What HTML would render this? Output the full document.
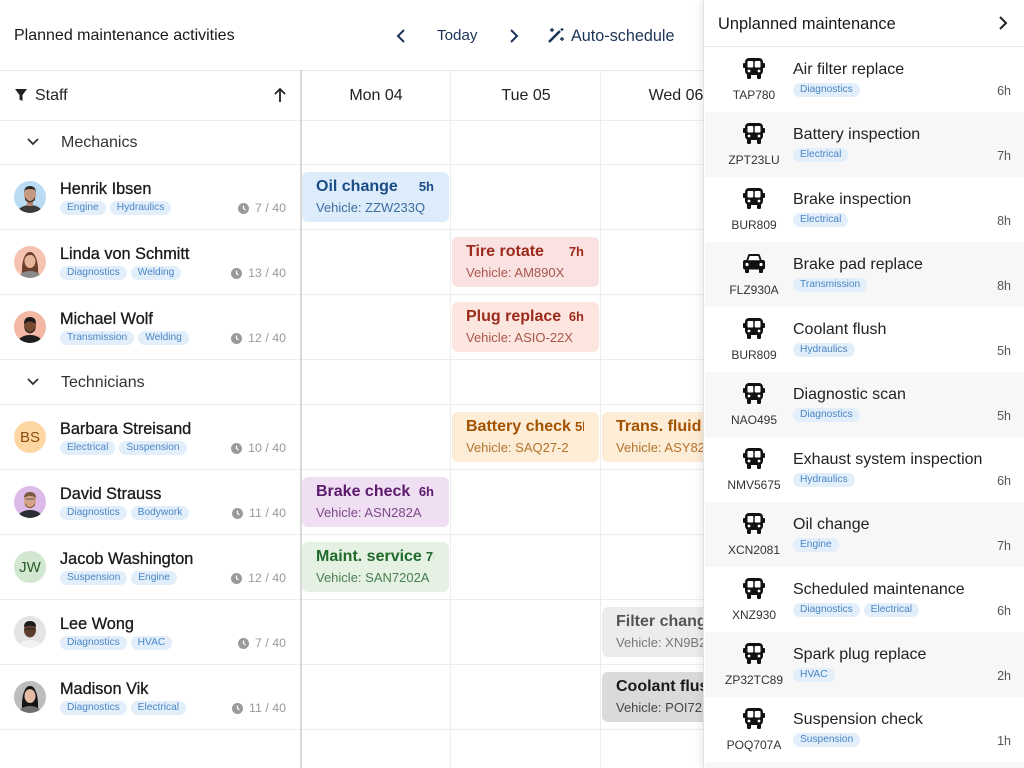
<!DOCTYPE html>
<html style="height:768px;overflow:hidden"><head><meta charset="utf-8">
<style>
*{box-sizing:border-box;margin:0;padding:0}
html,body{width:1024px;height:768px;overflow:hidden}
body{background:#fff;font-family:"Liberation Sans",Arial,sans-serif;color:#222;position:relative}
.a{position:absolute}
.hl{position:absolute;left:0;width:704px;height:1px;background:#ededed}
.vl{position:absolute;width:1px;background:#ededed;top:70px;height:698px}
.tag{display:inline-block;height:14px;line-height:14px;padding:0 7px;border-radius:7px;background:#e2eefa;color:#4a86c6;font-size:10.2px;margin-right:4px;vertical-align:top;white-space:nowrap}
.name{position:absolute;left:60px;top:15px;line-height:20px;font-size:16.3px;color:#1a1a1a;-webkit-text-stroke:0.3px #1a1a1a;white-space:nowrap}
.row{position:absolute;left:0;width:300px;height:65px}
.tags{position:absolute;left:60px;top:37px;white-space:nowrap}
.hrs{position:absolute;right:14px;top:36px;height:16px;line-height:16px;font-size:12.4px;color:#9a9a9a;display:flex;align-items:center;white-space:nowrap}
.hrs svg{margin-right:6px}
.av{position:absolute;left:14px;top:17px;width:32px;height:32px;border-radius:50%;overflow:hidden}
.ini{display:flex;align-items:center;justify-content:center;font-size:15px}
.card{position:absolute;height:50px;border-radius:6px;padding:0 15px 0 14px;overflow:hidden}
.ct{display:flex;justify-content:space-between;height:29px;line-height:29px;overflow:hidden;white-space:nowrap}
.ct b{font-size:16px;font-weight:bold;flex-shrink:0}
.ct i{font-style:normal;font-size:13px;font-weight:bold;margin-left:4px;flex-shrink:0}
.cs{font-size:13px;line-height:14px;white-space:nowrap}
.grp{position:absolute;left:61px;font-size:16px;color:#333;line-height:20px}
.dh{position:absolute;top:86px;width:150px;text-align:center;font-size:16px;color:#222;line-height:20px}
.panel{position:absolute;left:703px;top:0;width:321px;height:768px;background:#fff;border-left:1px solid #e2e2e2;box-shadow:-3px 0 7px rgba(0,0,0,.07);z-index:5;overflow:hidden}
.it{position:absolute;left:1px;width:320px;height:65px}
.it.g{background:#f7f7f7}
.ic{position:absolute;left:38px;top:11px}
.pl{position:absolute;left:9px;width:80px;top:40px;line-height:16px;text-align:center;font-size:12px;color:#333}
.tt{position:absolute;left:88px;top:13px;line-height:20px;font-size:16px;color:#222;white-space:nowrap}
.tg{position:absolute;left:88px;top:36px;white-space:nowrap}
.hh{position:absolute;right:14px;top:36px;line-height:16px;font-size:12.5px;color:#555}
</style></head><body>

<!-- header -->
<div class="a" style="left:14px;top:26px;line-height:20px;font-size:16px;color:#1a1a1a">Planned maintenance activities</div>
<svg class="a" style="left:395px;top:28px" width="12" height="16"><polyline points="9,2 3,8 9,14" fill="none" stroke="#1c3557" stroke-width="2"/></svg>
<div class="a" style="left:437px;top:26px;line-height:20px;font-size:15.2px;color:#1c3557">Today</div>
<svg class="a" style="left:508px;top:28px" width="12" height="16"><polyline points="3,2 9,8 3,14" fill="none" stroke="#1c3557" stroke-width="2"/></svg>
<svg class="a" style="left:547px;top:27px" width="18" height="17" viewBox="0 0 18 17">
<line x1="2" y1="15" x2="11" y2="6" stroke="#1c3557" stroke-width="2.6"/>
<line x1="10.5" y1="6.5" x2="13" y2="4" stroke="#1c3557" stroke-width="2.6"/>
<path d="M5 1 v4 M3 3 h4" stroke="#1c3557" stroke-width="1.4"/>
<path d="M15 1 v3 M13.5 2.5 h3" stroke="#1c3557" stroke-width="1.3"/>
<path d="M15 10 v4 M13 12 h4" stroke="#1c3557" stroke-width="1.4"/>
</svg>
<div class="a" style="left:571px;top:26px;line-height:20px;font-size:16.2px;color:#1c3557">Auto-schedule</div>

<!-- grid lines -->
<div class="hl" style="top:70px;background:#e6e6e6"></div>
<div class="hl" style="top:120px"></div>
<div class="hl" style="top:164px"></div>
<div class="hl" style="top:229px"></div>
<div class="hl" style="top:294px"></div>
<div class="hl" style="top:359px"></div>
<div class="hl" style="top:404px"></div>
<div class="hl" style="top:469px"></div>
<div class="hl" style="top:534px"></div>
<div class="hl" style="top:599px"></div>
<div class="hl" style="top:664px"></div>
<div class="hl" style="top:729px"></div>
<div class="vl" style="left:300px;width:2px;background:#d8d8d8"></div>
<div class="vl" style="left:450px"></div>
<div class="vl" style="left:600px"></div>

<!-- column header -->
<svg class="a" style="left:14px;top:88px" width="14" height="14"><polygon points="1,1 13,1 8.5,7 8.5,13 5.5,11.5 5.5,7" fill="#222"/></svg>
<div class="a" style="left:35px;top:86px;line-height:20px;font-size:16px;color:#222">Staff</div>
<svg class="a" style="left:273px;top:87px" width="14" height="16"><path d="M7 15 V2 M2 7 L7 2 L12 7" fill="none" stroke="#222" stroke-width="1.8"/></svg>
<div class="dh" style="left:301px">Mon 04</div>
<div class="dh" style="left:451px">Tue 05</div>
<div class="dh" style="left:601px">Wed 06</div>

<!-- groups -->
<svg class="a" style="left:26px;top:137px" width="14" height="10"><polyline points="2,2 7,7 12,2" fill="none" stroke="#333" stroke-width="1.8"/></svg>
<div class="grp" style="top:133px">Mechanics</div>
<svg class="a" style="left:26px;top:377px" width="14" height="10"><polyline points="2,2 7,7 12,2" fill="none" stroke="#333" stroke-width="1.8"/></svg>
<div class="grp" style="top:373px">Technicians</div>

<!-- staff rows -->
<div class="row" style="top:164px">
 <div class="av"><svg width="32" height="32"><rect width="32" height="32" fill="#b9dcf4"/><ellipse cx="16" cy="33" rx="13" ry="9" fill="#3d3a38"/><rect x="13" y="18" width="6" height="7" fill="#b58770"/><ellipse cx="16" cy="14" rx="6" ry="7.5" fill="#c69a80"/><path d="M10 12 Q10 5 16 5 Q22 5 22 12 L21 9 Q16 7 11 9 Z" fill="#2f2a28"/><path d="M11 16 Q16 24 21 16 L21 19 Q16 24 11 19Z" fill="#4a3a32"/></svg></div>
 <div class="name">Henrik Ibsen</div>
 <div class="tags"><span class="tag">Engine</span><span class="tag">Hydraulics</span></div>
 <div class="hrs"><svg width="11" height="11"><circle cx="5.5" cy="5.5" r="5.5" fill="#9a9a9a"/><path d="M5.5 2.5 V5.5 L7.5 7" stroke="#fff" stroke-width="1.2" fill="none"/></svg>7 / 40</div>
</div>
<div class="row" style="top:229px">
 <div class="av"><svg width="32" height="32"><rect width="32" height="32" fill="#f6c2b2"/><path d="M8 30 Q7 8 16 6 Q25 8 24 30Z" fill="#6b3f2c"/><ellipse cx="16" cy="33" rx="12" ry="8" fill="#8a8a8a"/><ellipse cx="16" cy="15" rx="5.5" ry="7" fill="#e7b79c"/><path d="M10 14 Q11 6 16 6 Q21 6 22 14 Q19 8 16 9 Q12 9 10 14Z" fill="#6b3f2c"/></svg></div>
 <div class="name">Linda von Schmitt</div>
 <div class="tags"><span class="tag">Diagnostics</span><span class="tag">Welding</span></div>
 <div class="hrs"><svg width="11" height="11"><circle cx="5.5" cy="5.5" r="5.5" fill="#9a9a9a"/><path d="M5.5 2.5 V5.5 L7.5 7" stroke="#fff" stroke-width="1.2" fill="none"/></svg>13 / 40</div>
</div>
<div class="row" style="top:294px">
 <div class="av"><svg width="32" height="32"><rect width="32" height="32" fill="#f3b7a3"/><ellipse cx="16" cy="33" rx="13" ry="9" fill="#1e1e1e"/><ellipse cx="16" cy="15" rx="6" ry="7.5" fill="#7a4b33"/><path d="M10 13 Q10 6 16 6 Q22 6 22 13 Q16 8 10 13Z" fill="#1a1a1a"/><path d="M11 17 Q16 25 21 17 L21 19 Q16 25 11 19Z" fill="#222"/></svg></div>
 <div class="name">Michael Wolf</div>
 <div class="tags"><span class="tag">Transmission</span><span class="tag">Welding</span></div>
 <div class="hrs"><svg width="11" height="11"><circle cx="5.5" cy="5.5" r="5.5" fill="#9a9a9a"/><path d="M5.5 2.5 V5.5 L7.5 7" stroke="#fff" stroke-width="1.2" fill="none"/></svg>12 / 40</div>
</div>
<div class="row" style="top:404px">
 <div class="av ini" style="background:#fdd6a4;color:#8a4b0c">BS</div>
 <div class="name">Barbara Streisand</div>
 <div class="tags"><span class="tag">Electrical</span><span class="tag">Suspension</span></div>
 <div class="hrs"><svg width="11" height="11"><circle cx="5.5" cy="5.5" r="5.5" fill="#9a9a9a"/><path d="M5.5 2.5 V5.5 L7.5 7" stroke="#fff" stroke-width="1.2" fill="none"/></svg>10 / 40</div>
</div>
<div class="row" style="top:469px">
 <div class="av"><svg width="32" height="32"><rect width="32" height="32" fill="#dcbbe8"/><ellipse cx="16" cy="33" rx="13" ry="9" fill="#2a2d33"/><ellipse cx="16" cy="15" rx="6" ry="7.5" fill="#d8a488"/><path d="M10 12 Q10 6 16 6 Q22 6 22 12 Q16 8 10 12Z" fill="#7a5b42"/><path d="M11 17 Q16 25 21 17 L21 19 Q16 25 11 19Z" fill="#7a5b42"/><path d="M11.5 13 h9" stroke="#555" stroke-width="1"/></svg></div>
 <div class="name">David Strauss</div>
 <div class="tags"><span class="tag">Diagnostics</span><span class="tag">Bodywork</span></div>
 <div class="hrs"><svg width="11" height="11"><circle cx="5.5" cy="5.5" r="5.5" fill="#9a9a9a"/><path d="M5.5 2.5 V5.5 L7.5 7" stroke="#fff" stroke-width="1.2" fill="none"/></svg>11 / 40</div>
</div>
<div class="row" style="top:534px">
 <div class="av ini" style="background:#d2e7cf;color:#2b5a2b">JW</div>
 <div class="name">Jacob Washington</div>
 <div class="tags"><span class="tag">Suspension</span><span class="tag">Engine</span></div>
 <div class="hrs"><svg width="11" height="11"><circle cx="5.5" cy="5.5" r="5.5" fill="#9a9a9a"/><path d="M5.5 2.5 V5.5 L7.5 7" stroke="#fff" stroke-width="1.2" fill="none"/></svg>12 / 40</div>
</div>
<div class="row" style="top:599px">
 <div class="av"><svg width="32" height="32"><rect width="32" height="32" fill="#e4e4e4"/><ellipse cx="16" cy="33" rx="13" ry="9" fill="#f2f2f2"/><ellipse cx="16" cy="14" rx="6" ry="7.5" fill="#5e3d2c"/><path d="M10 11 Q10 5 16 5 Q22 5 22 11 Q16 8 10 11Z" fill="#1a1a1a"/><path d="M11 13 h10" stroke="#222" stroke-width="1"/></svg></div>
 <div class="name">Lee Wong</div>
 <div class="tags"><span class="tag">Diagnostics</span><span class="tag">HVAC</span></div>
 <div class="hrs"><svg width="11" height="11"><circle cx="5.5" cy="5.5" r="5.5" fill="#9a9a9a"/><path d="M5.5 2.5 V5.5 L7.5 7" stroke="#fff" stroke-width="1.2" fill="none"/></svg>7 / 40</div>
</div>
<div class="row" style="top:664px">
 <div class="av"><svg width="32" height="32"><rect width="32" height="32" fill="#bdbdbd"/><path d="M8 30 Q7 7 16 5 Q25 7 24 30Z" fill="#151515"/><ellipse cx="16" cy="33" rx="12" ry="8" fill="#6f6f6f"/><ellipse cx="16" cy="15" rx="5.5" ry="7" fill="#e2bba2"/><path d="M10 13 Q11 5 16 5 Q21 5 22 13 Q19 8 16 8 Q12 8 10 13Z" fill="#151515"/></svg></div>
 <div class="name">Madison Vik</div>
 <div class="tags"><span class="tag">Diagnostics</span><span class="tag">Electrical</span></div>
 <div class="hrs"><svg width="11" height="11"><circle cx="5.5" cy="5.5" r="5.5" fill="#9a9a9a"/><path d="M5.5 2.5 V5.5 L7.5 7" stroke="#fff" stroke-width="1.2" fill="none"/></svg>11 / 40</div>
</div>

<!-- cards -->
<div class="card" style="left:302px;top:172px;width:147px;background:#dcecfa;color:#1a4c86"><div class="ct"><b>Oil change</b><i>5h</i></div><div class="cs" style="color:#3f6d9e">Vehicle: ZZW233Q</div></div>
<div class="card" style="left:452px;top:237px;width:147px;background:#fbe2e2;color:#9c2a1c"><div class="ct"><b>Tire rotate</b><i>7h</i></div><div class="cs" style="color:#a8554a">Vehicle: AM890X</div></div>
<div class="card" style="left:452px;top:302px;width:147px;background:#fde6df;color:#9c2a1c"><div class="ct"><b>Plug replace</b><i>6h</i></div><div class="cs" style="color:#a8554a">Vehicle: ASIO-22X</div></div>
<div class="card" style="left:452px;top:412px;width:147px;background:#fdecd6;color:#a35200"><div class="ct"><b>Battery check</b><i>5h</i></div><div class="cs" style="color:#b3742e">Vehicle: SAQ27-2</div></div>
<div class="card" style="left:602px;top:412px;width:147px;background:#fdecd6;color:#a35200"><div class="ct"><b>Trans. fluid</b><i>6h</i></div><div class="cs" style="color:#b3742e">Vehicle: ASY82B</div></div>
<div class="card" style="left:302px;top:477px;width:147px;background:#f0def3;color:#5b1a6b"><div class="ct"><b>Brake check</b><i>6h</i></div><div class="cs" style="color:#7c4a89">Vehicle: ASN282A</div></div>
<div class="card" style="left:302px;top:542px;width:147px;background:#e4f1e3;color:#1f6a2b"><div class="ct"><b>Maint. service</b><i>7h</i></div><div class="cs" style="color:#4b7f51">Vehicle: SAN7202A</div></div>
<div class="card" style="left:602px;top:607px;width:147px;background:#ececec;color:#555"><div class="ct"><b>Filter change</b><i>4h</i></div><div class="cs" style="color:#777">Vehicle: XN9B2K</div></div>
<div class="card" style="left:602px;top:672px;width:147px;background:#dadada;color:#1a1a1a"><div class="ct"><b>Coolant flush</b><i>5h</i></div><div class="cs" style="color:#444">Vehicle: POI72X</div></div>

<!-- right panel -->
<div class="panel">
 <div class="a" style="left:14px;top:14px;line-height:20px;font-size:16.4px;color:#1a1a1a">Unplanned maintenance</div>
 <svg class="a" style="left:293px;top:15px" width="12" height="16"><polyline points="3,2 9,8 3,14" fill="none" stroke="#222" stroke-width="2"/></svg>
 <div class="a" style="left:0;top:46px;width:321px;height:1px;background:#ececec"></div>

 <div class="it" style="top:47px"><svg class="ic" width="22" height="21" viewBox="0 0 22 21"><rect x="2" y="0" width="18" height="17" rx="4" fill="#111"/><rect x="0" y="5" width="2.5" height="5" rx="1" fill="#111"/><rect x="19.5" y="5" width="2.5" height="5" rx="1" fill="#111"/><rect x="4.5" y="3" width="5.8" height="6.5" rx="1" fill="#fff"/><rect x="11.7" y="3" width="5.8" height="6.5" rx="1" fill="#fff"/><circle cx="6" cy="13" r="1.4" fill="#fff"/><circle cx="16" cy="13" r="1.4" fill="#fff"/><rect x="4" y="15" width="4" height="6" rx="1.2" fill="#111"/><rect x="14" y="15" width="4" height="6" rx="1.2" fill="#111"/></svg><div class="pl">TAP780</div><div class="tt">Air filter replace</div><div class="tg"><span class="tag">Diagnostics</span></div><div class="hh">6h</div></div>

 <div class="it g" style="top:112px"><svg class="ic" width="22" height="21" viewBox="0 0 22 21"><rect x="2" y="0" width="18" height="17" rx="4" fill="#111"/><rect x="0" y="5" width="2.5" height="5" rx="1" fill="#111"/><rect x="19.5" y="5" width="2.5" height="5" rx="1" fill="#111"/><rect x="4.5" y="3" width="5.8" height="6.5" rx="1" fill="#fff"/><rect x="11.7" y="3" width="5.8" height="6.5" rx="1" fill="#fff"/><circle cx="6" cy="13" r="1.4" fill="#fff"/><circle cx="16" cy="13" r="1.4" fill="#fff"/><rect x="4" y="15" width="4" height="6" rx="1.2" fill="#111"/><rect x="14" y="15" width="4" height="6" rx="1.2" fill="#111"/></svg><div class="pl">ZPT23LU</div><div class="tt">Battery inspection</div><div class="tg"><span class="tag">Electrical</span></div><div class="hh">7h</div></div>

 <div class="it" style="top:177px"><svg class="ic" width="22" height="21" viewBox="0 0 22 21"><rect x="2" y="0" width="18" height="17" rx="4" fill="#111"/><rect x="0" y="5" width="2.5" height="5" rx="1" fill="#111"/><rect x="19.5" y="5" width="2.5" height="5" rx="1" fill="#111"/><rect x="4.5" y="3" width="5.8" height="6.5" rx="1" fill="#fff"/><rect x="11.7" y="3" width="5.8" height="6.5" rx="1" fill="#fff"/><circle cx="6" cy="13" r="1.4" fill="#fff"/><circle cx="16" cy="13" r="1.4" fill="#fff"/><rect x="4" y="15" width="4" height="6" rx="1.2" fill="#111"/><rect x="14" y="15" width="4" height="6" rx="1.2" fill="#111"/></svg><div class="pl">BUR809</div><div class="tt">Brake inspection</div><div class="tg"><span class="tag">Electrical</span></div><div class="hh">8h</div></div>

 <div class="it g" style="top:242px"><svg class="ic" style="left:37px;top:12px" width="24" height="19" viewBox="0 0 24 19"><path d="M4 7.5 L6 1.2 Q6.4 0 7.6 0 H16.4 Q17.6 0 18 1.2 L20 7.5 Z" fill="#111"/><rect x="1" y="6" width="22" height="9.5" rx="2" fill="#111"/><path d="M6.3 6.3 L7.7 2 H16.3 L17.7 6.3 Z" fill="#fff"/><circle cx="5" cy="10.5" r="1.6" fill="#fff"/><circle cx="19" cy="10.5" r="1.6" fill="#fff"/><rect x="3" y="14" width="4" height="5" rx="1" fill="#111"/><rect x="17" y="14" width="4" height="5" rx="1" fill="#111"/></svg><div class="pl">FLZ930A</div><div class="tt">Brake pad replace</div><div class="tg"><span class="tag">Transmission</span></div><div class="hh">8h</div></div>

 <div class="it" style="top:307px"><svg class="ic" width="22" height="21" viewBox="0 0 22 21"><rect x="2" y="0" width="18" height="17" rx="4" fill="#111"/><rect x="0" y="5" width="2.5" height="5" rx="1" fill="#111"/><rect x="19.5" y="5" width="2.5" height="5" rx="1" fill="#111"/><rect x="4.5" y="3" width="5.8" height="6.5" rx="1" fill="#fff"/><rect x="11.7" y="3" width="5.8" height="6.5" rx="1" fill="#fff"/><circle cx="6" cy="13" r="1.4" fill="#fff"/><circle cx="16" cy="13" r="1.4" fill="#fff"/><rect x="4" y="15" width="4" height="6" rx="1.2" fill="#111"/><rect x="14" y="15" width="4" height="6" rx="1.2" fill="#111"/></svg><div class="pl">BUR809</div><div class="tt">Coolant flush</div><div class="tg"><span class="tag">Hydraulics</span></div><div class="hh">5h</div></div>

 <div class="it g" style="top:372px"><svg class="ic" width="22" height="21" viewBox="0 0 22 21"><rect x="2" y="0" width="18" height="17" rx="4" fill="#111"/><rect x="0" y="5" width="2.5" height="5" rx="1" fill="#111"/><rect x="19.5" y="5" width="2.5" height="5" rx="1" fill="#111"/><rect x="4.5" y="3" width="5.8" height="6.5" rx="1" fill="#fff"/><rect x="11.7" y="3" width="5.8" height="6.5" rx="1" fill="#fff"/><circle cx="6" cy="13" r="1.4" fill="#fff"/><circle cx="16" cy="13" r="1.4" fill="#fff"/><rect x="4" y="15" width="4" height="6" rx="1.2" fill="#111"/><rect x="14" y="15" width="4" height="6" rx="1.2" fill="#111"/></svg><div class="pl">NAO495</div><div class="tt">Diagnostic scan</div><div class="tg"><span class="tag">Diagnostics</span></div><div class="hh">5h</div></div>

 <div class="it" style="top:437px"><svg class="ic" width="22" height="21" viewBox="0 0 22 21"><rect x="2" y="0" width="18" height="17" rx="4" fill="#111"/><rect x="0" y="5" width="2.5" height="5" rx="1" fill="#111"/><rect x="19.5" y="5" width="2.5" height="5" rx="1" fill="#111"/><rect x="4.5" y="3" width="5.8" height="6.5" rx="1" fill="#fff"/><rect x="11.7" y="3" width="5.8" height="6.5" rx="1" fill="#fff"/><circle cx="6" cy="13" r="1.4" fill="#fff"/><circle cx="16" cy="13" r="1.4" fill="#fff"/><rect x="4" y="15" width="4" height="6" rx="1.2" fill="#111"/><rect x="14" y="15" width="4" height="6" rx="1.2" fill="#111"/></svg><div class="pl">NMV5675</div><div class="tt">Exhaust system inspection</div><div class="tg"><span class="tag">Hydraulics</span></div><div class="hh">6h</div></div>

 <div class="it g" style="top:502px"><svg class="ic" width="22" height="21" viewBox="0 0 22 21"><rect x="2" y="0" width="18" height="17" rx="4" fill="#111"/><rect x="0" y="5" width="2.5" height="5" rx="1" fill="#111"/><rect x="19.5" y="5" width="2.5" height="5" rx="1" fill="#111"/><rect x="4.5" y="3" width="5.8" height="6.5" rx="1" fill="#fff"/><rect x="11.7" y="3" width="5.8" height="6.5" rx="1" fill="#fff"/><circle cx="6" cy="13" r="1.4" fill="#fff"/><circle cx="16" cy="13" r="1.4" fill="#fff"/><rect x="4" y="15" width="4" height="6" rx="1.2" fill="#111"/><rect x="14" y="15" width="4" height="6" rx="1.2" fill="#111"/></svg><div class="pl">XCN2081</div><div class="tt">Oil change</div><div class="tg"><span class="tag">Engine</span></div><div class="hh">7h</div></div>

 <div class="it" style="top:567px"><svg class="ic" width="22" height="21" viewBox="0 0 22 21"><rect x="2" y="0" width="18" height="17" rx="4" fill="#111"/><rect x="0" y="5" width="2.5" height="5" rx="1" fill="#111"/><rect x="19.5" y="5" width="2.5" height="5" rx="1" fill="#111"/><rect x="4.5" y="3" width="5.8" height="6.5" rx="1" fill="#fff"/><rect x="11.7" y="3" width="5.8" height="6.5" rx="1" fill="#fff"/><circle cx="6" cy="13" r="1.4" fill="#fff"/><circle cx="16" cy="13" r="1.4" fill="#fff"/><rect x="4" y="15" width="4" height="6" rx="1.2" fill="#111"/><rect x="14" y="15" width="4" height="6" rx="1.2" fill="#111"/></svg><div class="pl">XNZ930</div><div class="tt">Scheduled maintenance</div><div class="tg"><span class="tag">Diagnostics</span><span class="tag">Electrical</span></div><div class="hh">6h</div></div>

 <div class="it g" style="top:632px"><svg class="ic" width="22" height="21" viewBox="0 0 22 21"><rect x="2" y="0" width="18" height="17" rx="4" fill="#111"/><rect x="0" y="5" width="2.5" height="5" rx="1" fill="#111"/><rect x="19.5" y="5" width="2.5" height="5" rx="1" fill="#111"/><rect x="4.5" y="3" width="5.8" height="6.5" rx="1" fill="#fff"/><rect x="11.7" y="3" width="5.8" height="6.5" rx="1" fill="#fff"/><circle cx="6" cy="13" r="1.4" fill="#fff"/><circle cx="16" cy="13" r="1.4" fill="#fff"/><rect x="4" y="15" width="4" height="6" rx="1.2" fill="#111"/><rect x="14" y="15" width="4" height="6" rx="1.2" fill="#111"/></svg><div class="pl">ZP32TC89</div><div class="tt">Spark plug replace</div><div class="tg"><span class="tag">HVAC</span></div><div class="hh">2h</div></div>

 <div class="it" style="top:697px"><svg class="ic" width="22" height="21" viewBox="0 0 22 21"><rect x="2" y="0" width="18" height="17" rx="4" fill="#111"/><rect x="0" y="5" width="2.5" height="5" rx="1" fill="#111"/><rect x="19.5" y="5" width="2.5" height="5" rx="1" fill="#111"/><rect x="4.5" y="3" width="5.8" height="6.5" rx="1" fill="#fff"/><rect x="11.7" y="3" width="5.8" height="6.5" rx="1" fill="#fff"/><circle cx="6" cy="13" r="1.4" fill="#fff"/><circle cx="16" cy="13" r="1.4" fill="#fff"/><rect x="4" y="15" width="4" height="6" rx="1.2" fill="#111"/><rect x="14" y="15" width="4" height="6" rx="1.2" fill="#111"/></svg><div class="pl">POQ707A</div><div class="tt">Suspension check</div><div class="tg"><span class="tag">Suspension</span></div><div class="hh">1h</div></div>

 <div class="it g" style="top:762px;height:6px"></div>
</div>
</body></html>
